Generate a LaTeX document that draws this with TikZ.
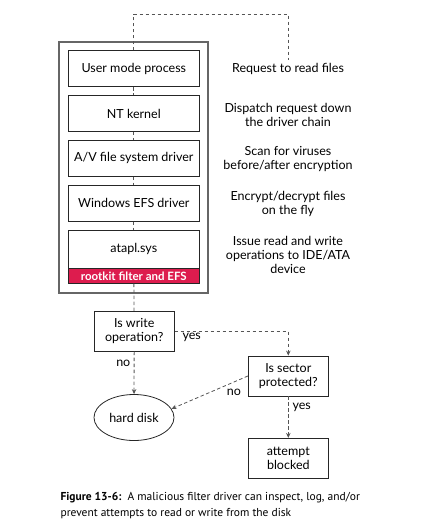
\documentclass[tikz,border=0pt]{standalone}
\usepackage{fontspec}
\setmainfont{Lato}
\newfontfamily\capfont{PT Sans}
\usetikzlibrary{shapes,arrows.meta,positioning,calc}
\definecolor{rootkitred}{HTML}{DD1C4E}
\definecolor{linegray}{HTML}{555555}

\begin{document}
\begin{tikzpicture}[x=1pt,y=-1pt,
    font=\fontsize{12.5}{14}\selectfont,
    layer/.style={draw=black!85, line width=0.8pt, minimum width=131pt, minimum height=36pt, inner sep=0pt, align=center},
    decision/.style={draw=black!85, line width=0.8pt, minimum width=80pt, minimum height=40pt, inner sep=0pt, align=center},
    note/.style={align=center},
    flow/.style={draw=linegray, line width=0.8pt, dash pattern=on 3.5pt off 2.5pt},
    flowarrow/.style={flow, -{Stealth[length=5pt,width=4.5pt]}}]
    \useasboundingbox (0,0) rectangle (430,525);

    % driver stack
    \node (stack) [draw=black!60, line width=1.2pt, minimum width=149pt, minimum height=251pt] at (133.5,167.5) {};
    \node (user) [layer] at (133.8,68.7) {User mode process};
    \node (kernel) [layer] at (133.8,113.5) {NT kernel};
    \node (av) [layer] at (133.8,158.2) {A/V file system driver};
    \node (efs) [layer] at (133.8,203.2) {Windows EFS driver};
    \node (atapl) [layer, minimum height=38pt] at (133.8,249.2) {atapl.sys};
    \node (band) [layer, minimum height=15pt, fill=rootkitred, text=white, font=\fontsize{11.5}{13}\selectfont\bfseries] at (133.8,275.8) {rootkit filter and EFS};

    % what each layer does
    \node (nreq) [note] at (288,69) {Request to read files};
    \node (ndispatch) [note] at (288,114.5) {Dispatch request down\\the driver chain};
    \node (nscan) [note] at (288,158.8) {Scan for viruses\\before/after encryption};
    \node (ncrypt) [note] at (288,203.8) {Encrypt/decrypt files\\on the fly};
    \node (nissue) [note] at (288,255.3) {Issue read and write\\operations to IDE/ATA\\device};

    \coordinate (top) at (133.8,14);
    \draw[flow] (user.north) -- (top) -| (nreq.north);
    \foreach \a/\b in {user/kernel, kernel/av, av/efs, efs/atapl}
        \draw[flow] (\a) -- (\b);

    % decisions
    \node (iswrite) [decision] at (134.2,331.3) {Is write\\operation?};
    \node (sector) [decision] at (288.3,376) {Is sector\\protected?};
    \node (blocked) [decision] at (288.3,458.3) {attempt\\blocked};
    \node (disk) [draw=black!85, line width=0.8pt, ellipse, minimum width=80pt, minimum height=46pt, inner sep=0pt] at (134,417.5) {hard disk};

    \draw[flow] (band) -- (iswrite);
    \draw[flowarrow] (iswrite) -| (sector);
    \draw[flowarrow] (iswrite) -- (disk);
    \draw[flowarrow] (sector.west) -- (disk.13);
    \draw[flowarrow] (sector) -- (blocked);

    \node (yeswrite) at (191.7,337.7) {yes};
    \node (nowrite) at (123.3,363.3) {no};
    \node (nosector) at (234,392) {no};
    \node (yessector) at (301.7,407.3) {yes};

    % caption
    \node (caption) [anchor=west, align=left, font=\capfont\fontsize{11.5}{16}\selectfont] at (57,506)
        {\textbf{Figure 13-6:}\ \ A malicious filter driver can inspect, log, and/or\\prevent attempts to read or write from the disk};
\end{tikzpicture}
\end{document}
